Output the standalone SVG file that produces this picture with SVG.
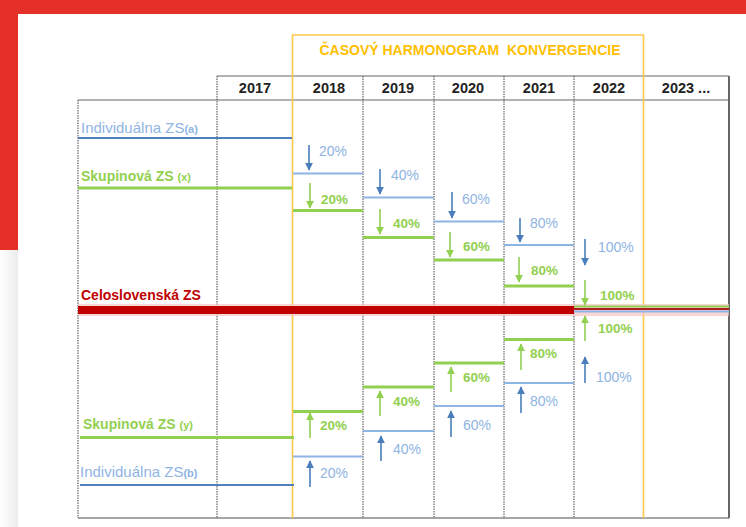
<svg xmlns="http://www.w3.org/2000/svg" width="746" height="527" viewBox="0 0 746 527">
<defs>
<linearGradient id="lg" x1="0" y1="0" x2="1" y2="0"><stop offset="0" stop-color="#ffffff"/><stop offset="1" stop-color="#ececec"/></linearGradient>
<marker id="hb" viewBox="0 0 10 10" refX="9" refY="5" markerWidth="8" markerHeight="8" markerUnits="userSpaceOnUse" orient="auto"><path d="M0,0 L10,5 L0,10 Z" fill="#4A7EBB"/></marker>
<marker id="hg" viewBox="0 0 10 10" refX="9" refY="5" markerWidth="8" markerHeight="8" markerUnits="userSpaceOnUse" orient="auto"><path d="M0,0 L10,5 L0,10 Z" fill="#92D050"/></marker>
<style>
text{font-family:"Liberation Sans",Arial,sans-serif;}
.yr{font-size:14.5px;font-weight:bold;fill:#222;text-anchor:middle;}
.ttl{font-size:14px;font-weight:bold;fill:#FFC000;text-anchor:middle;white-space:pre;}
.pb{font-size:14px;fill:#8EB4E3;}
.pg{font-size:13.5px;font-weight:bold;fill:#92D050;}
.dot{stroke:#444;stroke-width:1;stroke-dasharray:1.5 1;fill:none;}
.or{stroke:#FFC84A;stroke-width:1.6;fill:none;}
.bl{stroke:#8EB4E3;stroke-width:2;}
.bld{stroke:#4F81BD;stroke-width:2.2;}
.gl{stroke:#92D050;stroke-width:3;}
.ab{stroke:#4A7EBB;stroke-width:1.6;marker-end:url(#hb);}
.ag{stroke:#92D050;stroke-width:1.6;marker-end:url(#hg);}
</style>
</defs>
<g id="background">
<rect x="0" y="0" width="746" height="527" fill="#ffffff"/>
<rect x="0" y="0" width="746" height="14" fill="#E5302A"/>
<rect x="0" y="0" width="18" height="250" fill="#E5302A"/>
<rect x="0" y="250" width="18" height="277" fill="url(#lg)"/>
</g>
<g id="table">
<line x1="217" y1="76" x2="729" y2="76" stroke="#666" stroke-width="1.2"/>
<line x1="78" y1="100" x2="729" y2="100" stroke="#666" stroke-width="1.2"/>
<line x1="78" y1="518" x2="729" y2="518" stroke="#888" stroke-width="1.5"/>
<line x1="729" y1="76" x2="729" y2="518" stroke="#666" stroke-width="2"/>
<line class="dot" x1="78" y1="100" x2="78" y2="518"/>
<line class="dot" x1="217" y1="76" x2="217" y2="518"/>
<line class="dot" x1="363" y1="76" x2="363" y2="518"/>
<line class="dot" x1="434" y1="76" x2="434" y2="518"/>
<line class="dot" x1="504" y1="76" x2="504" y2="518"/>
<line class="dot" x1="574" y1="76" x2="574" y2="518"/>
<text class="yr" x="255" y="93">2017</text>
<text class="yr" x="329" y="93">2018</text>
<text class="yr" x="398" y="93">2019</text>
<text class="yr" x="468" y="93">2020</text>
<text class="yr" x="539" y="93">2021</text>
<text class="yr" x="609" y="93">2022</text>
<text class="yr" x="686" y="93">2023 ...</text>
</g>
<g id="harmonogram">
<path class="or" d="M292.5,518 V35 H643.5 V518"/>
<text class="ttl" x="470" y="55" xml:space="preserve">ČASOVÝ HARMONOGRAM  KONVERGENCIE</text>
</g>
<g id="celoslovenska">
<rect x="78" y="304" width="651" height="12" fill="#F7C6C6" opacity="0.7"/>
<rect x="78" y="306" width="496" height="8" fill="#C00000"/>
<line x1="574" y1="306.5" x2="729" y2="306.5" stroke="#92D050" stroke-width="2.2"/>
<line x1="574" y1="309" x2="729" y2="309" stroke="#B02020" stroke-width="2"/>
<line x1="574" y1="311.5" x2="729" y2="311.5" stroke="#8EB4E3" stroke-width="2"/>
<text x="81" y="300" font-size="14" font-weight="bold" fill="#C00000">Celoslovenská ZS</text>
</g>
<g id="individualna-a">
<text x="81" y="133" font-size="15" fill="#8EB4E3">Individuálna ZS<tspan font-size="11" font-weight="bold">(a)</tspan></text>
<line class="bld" x1="78" y1="138" x2="292" y2="138"/>
</g>
<g id="skupinova-x">
<text x="81" y="181" font-size="14" font-weight="bold" fill="#92D050">Skupinová ZS <tspan font-size="11">(x)</tspan></text>
<line class="gl" x1="78" y1="188" x2="292" y2="188"/>
</g>
<g id="skupinova-y">
<text x="83" y="429" font-size="14" font-weight="bold" fill="#92D050">Skupinová ZS <tspan font-size="11">(y)</tspan></text>
<line class="gl" x1="80" y1="437.5" x2="294" y2="437.5"/>
</g>
<g id="individualna-b">
<text x="80" y="477" font-size="15" fill="#8EB4E3">Individuálna ZS<tspan font-size="11" font-weight="bold">(b)</tspan></text>
<line class="bld" x1="80" y1="485" x2="294" y2="485"/>
</g>
<g id="steps-down">
<line class="bl" x1="293" y1="173.5" x2="363" y2="173.5"/>
<line class="gl" x1="293" y1="210.5" x2="363" y2="210.5"/>
<line class="bl" x1="363" y1="197.5" x2="434" y2="197.5"/>
<line class="gl" x1="363" y1="237.5" x2="434" y2="237.5"/>
<line class="bl" x1="434" y1="221.5" x2="504" y2="221.5"/>
<line class="gl" x1="434" y1="260" x2="504" y2="260"/>
<line class="bl" x1="504" y1="245" x2="574" y2="245"/>
<line class="gl" x1="504" y1="286" x2="574" y2="286"/>
<text class="pb" x="319" y="156">20%</text>
<text class="pg" x="321" y="204">20%</text>
<text class="pb" x="391" y="180">40%</text>
<text class="pg" x="393" y="228">40%</text>
<text class="pb" x="462" y="204">60%</text>
<text class="pg" x="463" y="251">60%</text>
<text class="pb" x="530" y="228">80%</text>
<text class="pg" x="531" y="275">80%</text>
<text class="pb" x="598" y="252">100%</text>
<text class="pg" x="600" y="300">100%</text>
</g>
<g id="steps-up">
<line class="gl" x1="293" y1="411.5" x2="363" y2="411.5"/>
<line class="bl" x1="293" y1="456.5" x2="363" y2="456.5"/>
<line class="gl" x1="363" y1="387" x2="434" y2="387"/>
<line class="bl" x1="363" y1="431" x2="434" y2="431"/>
<line class="gl" x1="434" y1="363" x2="504" y2="363"/>
<line class="bl" x1="434" y1="406" x2="504" y2="406"/>
<line class="gl" x1="504" y1="339.5" x2="574" y2="339.5"/>
<line class="bl" x1="504" y1="383" x2="574" y2="383"/>
<text class="pg" x="320" y="430">20%</text>
<text class="pb" x="320" y="478">20%</text>
<text class="pg" x="393" y="406">40%</text>
<text class="pb" x="393" y="454">40%</text>
<text class="pg" x="463" y="382">60%</text>
<text class="pb" x="463" y="430">60%</text>
<text class="pg" x="530" y="358">80%</text>
<text class="pb" x="530" y="406">80%</text>
<text class="pg" x="598" y="333">100%</text>
<text class="pb" x="596" y="382">100%</text>
</g>
<g id="connectors">
<line class="ab" x1="309" y1="145" x2="309" y2="170"/>
<line class="ag" x1="310" y1="183" x2="310" y2="208"/>
<line class="ab" x1="380" y1="169" x2="380" y2="194"/>
<line class="ag" x1="380" y1="209" x2="380" y2="234"/>
<line class="ab" x1="452" y1="192" x2="452" y2="218"/>
<line class="ag" x1="450" y1="232" x2="450" y2="257"/>
<line class="ab" x1="520" y1="218" x2="520" y2="242"/>
<line class="ag" x1="519" y1="257" x2="519" y2="282"/>
<line class="ab" x1="585" y1="239" x2="585" y2="265"/>
<line class="ag" x1="585" y1="280" x2="585" y2="305"/>
<line class="ag" x1="585" y1="341" x2="585" y2="316"/>
<line class="ab" x1="585" y1="383" x2="585" y2="357"/>
<line class="ag" x1="521" y1="370" x2="521" y2="344"/>
<line class="ab" x1="521" y1="413" x2="521" y2="387"/>
<line class="ag" x1="451" y1="392" x2="451" y2="367"/>
<line class="ab" x1="451" y1="437" x2="451" y2="411"/>
<line class="ag" x1="380" y1="416" x2="380" y2="391"/>
<line class="ab" x1="381" y1="461" x2="381" y2="436"/>
<line class="ag" x1="310" y1="438" x2="310" y2="413"/>
<line class="ab" x1="310" y1="487" x2="310" y2="461"/>
</g>
</svg>
